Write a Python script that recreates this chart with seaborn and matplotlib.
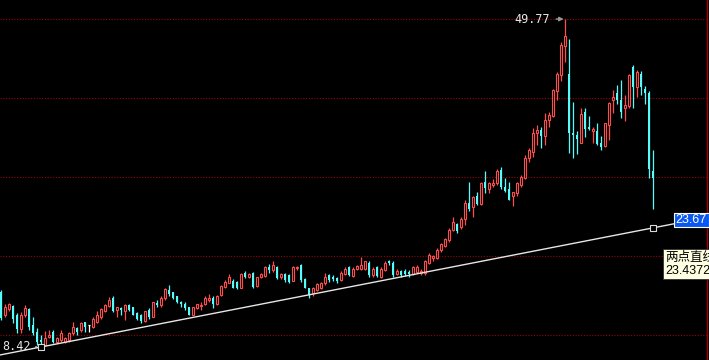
import matplotlib
matplotlib.use("Agg")
import matplotlib.pyplot as plt
from matplotlib.patches import Rectangle
import numpy as np
import pandas as pd
import seaborn as sns

# daily candles (price)
opens = [15.35, 12.5, 13.2, 13.6, 12.5, 10.65, 12.5, 13.2, 11.2, 10.35,
         9.3, 8.7, 9.7, 10.35, 9.1, 9.3, 9.1, 9.3, 10.15, 10.8,
         10.6, 11.6, 11.2, 11.0, 11.6, 12.25, 12.9, 13.6, 14.6, 13.1,
         13.3, 12.9, 13.7, 13.4, 12.7, 12.4, 11.7, 13.1, 12.25, 14.0,
         13.7, 14.6, 15.6, 15.3, 14.8, 14.1, 13.9, 13.4, 12.5, 13.3,
         13.6, 13.9, 14.35, 14.6, 13.9, 15.0, 16.0, 16.5, 16.8, 16.65,
         15.9, 17.7, 17.3, 17.8, 16.1, 17.2, 17.4, 18.5, 18.1, 18.55,
         17.2, 17.6, 17.5, 16.8, 18.4, 18.8, 16.95, 15.8, 15.2, 15.6,
         15.9, 16.45, 17.5, 17.3, 17.1, 16.9, 17.6, 18.5, 17.4, 18.3,
         18.2, 18.2, 19.05, 17.5, 18.5, 17.3, 18.1, 19.2, 19.05, 17.6,
         18.0, 18.0, 17.9, 17.6, 17.9, 17.7, 17.7, 19.0, 19.6, 19.7,
         20.6, 21.1, 21.9, 23.2, 23.9, 23.5, 24.6, 26.6, 26.1, 27.45,
         26.5, 29.25, 28.3, 28.85, 29.05, 30.7, 28.6, 28.3, 27.4, 27.8,
         28.85, 29.7, 32.2, 33.05, 35.45, 35.8, 35.0, 37.0, 37.5, 40.7,
         42.7, 46.4, 42.8, 35.45, 35.15, 34.2, 38.1, 36.1, 35.6, 35.7,
         34.2, 33.7, 36.4, 39.5, 40.4, 39.55, 38.6, 38.8, 43.7, 41.2,
         42.8, 40.9, 40.4, 30.65]
highs = [15.6, 13.9, 14.0, 13.7, 12.7, 12.8, 13.7, 13.3, 12.2, 10.8,
         9.9, 10.4, 10.6, 10.6, 9.7, 10.6, 9.7, 10.35, 11.6, 11.0,
         11.6, 11.6, 11.2, 12.2, 12.9, 13.3, 13.9, 14.7, 14.8, 13.5,
         13.5, 13.9, 13.9, 13.5, 12.8, 12.6, 13.0, 13.3, 14.1, 14.35,
         14.8, 15.8, 16.2, 15.4, 14.9, 14.2, 14.1, 13.5, 13.5, 13.9,
         14.1, 14.8, 15.1, 14.8, 15.0, 16.2, 16.9, 17.6, 16.95, 16.8,
         17.8, 18.0, 17.8, 17.9, 17.3, 17.7, 18.6, 18.9, 19.3, 18.6,
         17.7, 17.7, 17.6, 18.6, 18.6, 18.9, 17.1, 15.9, 16.0, 16.5,
         16.65, 17.7, 17.6, 17.5, 17.2, 18.0, 18.5, 18.6, 18.5, 18.8,
         19.8, 19.3, 19.2, 18.5, 18.6, 18.5, 19.2, 19.4, 19.2, 18.2,
         18.1, 18.2, 18.1, 18.6, 18.7, 18.3, 19.4, 20.3, 20.0, 20.85,
         21.5, 22.2, 23.4, 24.85, 24.1, 24.85, 26.95, 29.25, 27.45, 27.9,
         29.25, 30.6, 29.25, 29.55, 30.8, 31.15, 29.7, 29.25, 28.0, 29.25,
         30.1, 32.6, 33.5, 36.0, 36.4, 36.2, 37.9, 38.1, 41.0, 43.1,
         46.9, 49.77, 47.2, 39.35, 35.7, 38.6, 38.6, 37.6, 36.2, 36.7,
         35.0, 36.7, 39.35, 40.8, 41.45, 42.1, 40.2, 42.85, 43.97, 43.3,
         43.25, 41.3, 40.7, 33.3]
lows = [11.8, 12.25, 13.0, 11.4, 10.2, 10.2, 12.25, 10.6, 9.9, 8.7,
        8.42, 8.5, 9.5, 8.9, 8.9, 9.1, 8.95, 9.1, 9.9, 9.9,
        10.35, 10.35, 10.35, 10.8, 11.4, 12.0, 12.8, 13.4, 12.8, 12.25,
        12.5, 11.8, 12.9, 12.4, 11.8, 11.4, 11.6, 12.0, 12.2, 13.4,
        13.5, 14.35, 14.8, 14.5, 14.0, 13.5, 13.1, 12.4, 12.4, 13.2,
        13.1, 13.7, 14.1, 13.3, 13.7, 14.8, 15.9, 16.45, 15.8, 15.7,
        15.8, 17.1, 17.1, 15.9, 16.0, 17.1, 17.3, 17.7, 17.9, 17.0,
        17.0, 16.65, 16.5, 16.7, 18.1, 16.65, 15.8, 14.55, 14.8, 15.5,
        15.7, 16.2, 16.65, 16.8, 16.45, 16.8, 17.5, 17.4, 17.3, 18.1,
        18.1, 18.1, 17.3, 17.3, 17.2, 17.1, 18.0, 18.8, 17.3, 17.5,
        17.3, 17.4, 17.3, 17.5, 17.8, 17.5, 17.5, 18.9, 19.3, 19.5,
        20.4, 21.0, 21.7, 23.0, 22.75, 23.25, 23.8, 25.6, 24.85, 26.3,
        26.3, 27.8, 27.8, 28.6, 28.8, 28.4, 28.0, 26.9, 26.2, 27.4,
        28.6, 29.55, 31.8, 32.4, 33.9, 33.5, 33.9, 36.2, 37.4, 39.5,
        42.0, 44.4, 32.9, 32.2, 32.75, 34.1, 34.85, 35.8, 34.2, 33.9,
        33.2, 33.6, 34.5, 37.95, 39.05, 37.35, 36.9, 38.5, 38.5, 39.9,
        40.2, 39.05, 29.7, 25.8]
closes = [12.07, 13.5, 13.8, 11.9, 10.65, 12.5, 13.3, 10.9, 10.15, 9.1,
          9.0, 9.5, 9.9, 9.1, 9.5, 10.15, 9.5, 10.15, 10.9, 10.35,
          11.4, 11.0, 11.2, 11.9, 12.5, 13.2, 13.7, 14.4, 12.96, 13.4,
          13.1, 13.7, 13.1, 12.5, 12.0, 11.7, 12.9, 12.25, 14.05, 13.7,
          14.6, 15.7, 15.1, 14.6, 14.1, 13.8, 13.3, 12.5, 13.4, 13.8,
          13.7, 14.6, 14.6, 13.9, 14.85, 16.1, 16.65, 17.2, 15.9, 15.8,
          17.6, 17.2, 17.6, 16.0, 17.2, 17.6, 18.5, 18.1, 18.8, 17.1,
          17.6, 16.9, 16.65, 18.5, 18.55, 16.9, 15.9, 15.0, 15.8, 16.4,
          16.5, 17.3, 16.9, 16.95, 16.8, 17.8, 18.3, 17.5, 18.3, 18.6,
          18.8, 19.2, 17.5, 18.3, 17.4, 18.3, 19.05, 19.0, 17.5, 18.0,
          17.5, 17.6, 17.6, 18.5, 18.55, 18.0, 19.2, 20.0, 19.9, 20.7,
          21.4, 22.0, 23.2, 24.2, 23.1, 24.6, 26.6, 25.8, 27.3, 26.45,
          29.1, 28.5, 29.1, 29.1, 30.65, 28.6, 28.1, 27.0, 27.9, 29.05,
          29.8, 32.3, 33.3, 35.45, 35.8, 35.0, 37.1, 37.65, 40.8, 42.8,
          46.5, 47.6, 35.45, 35.15, 34.7, 37.8, 35.85, 35.85, 35.85, 34.0,
          33.6, 36.6, 39.2, 39.9, 39.55, 38.1, 38.9, 42.7, 41.15, 43.1,
          41.15, 40.4, 30.8, 29.7]

# two-point trend line (bar number, price)
line_start = (11, 8.42)
line_end = (164, 23.4372)
grid_levels = [9.93, 19.89, 29.85, 39.81, 49.77]
right_label = "23.67"
tip_title = "两点直线"
tip_value = "23.4372"

UP = "#ff4d4d"
DOWN = "#54fcfc"
GRID = "#a00000"

df = pd.DataFrame({"open": opens, "high": highs, "low": lows, "close": closes})
df["bar"] = np.arange(1, len(df) + 1)
df["color"] = np.where(df["close"] > df["open"], UP,
                       np.where(df["close"] < df["open"], DOWN, "white"))

sns.set_style("dark", rc={"axes.facecolor": "black", "figure.facecolor": "black"})

fig = plt.figure(figsize=(7.09, 3.6), dpi=100)
ax = fig.add_axes([0, 0, 707 / 709, 1])

for lvl in grid_levels:
    ax.axhline(lvl, color=GRID, linestyle=(0, (1, 1.5)), linewidth=0.8, zorder=1)

# wicks
ax.vlines(df["bar"], df["low"], df["high"], colors=df["color"], linewidth=0.9, zorder=2)

up = df[df["close"] > df["open"]]
dn = df[df["close"] < df["open"]]
flat = df[df["close"] == df["open"]]
ax.bar(up["bar"], up["close"] - up["open"], bottom=up["open"], width=0.55,
       facecolor="black", edgecolor=UP, linewidth=0.8, zorder=3)
ax.bar(dn["bar"], dn["open"] - dn["close"], bottom=dn["close"], width=0.72,
       color=DOWN, linewidth=0, zorder=3)
ax.hlines(flat["open"], flat["bar"] - 0.36, flat["bar"] + 0.36, colors="white",
          linewidth=0.9, zorder=3)

# trend line through the two anchors, extended
slope = (line_end[1] - line_start[1]) / (line_end[0] - line_start[0])
xs = np.array([0.75, 169.25])
ys = line_start[1] + slope * (xs - line_start[0])
sns.lineplot(x=xs, y=ys, ax=ax, color="#e6e6e6", linewidth=1.0, zorder=4)
ax.scatter([line_start[0], line_end[0]], [line_start[1], line_end[1]], marker="s",
           s=22, facecolors="black", edgecolors="#d8d8d8", linewidths=0.8, zorder=5)

# high / low markers
hi = df.loc[df["high"].idxmax()]
ax.annotate(f"{hi['high']:.2f}", xy=(hi["bar"], hi["high"]), xytext=(-15, 0),
            textcoords="offset pixels", ha="right", va="center", color="#e6e6e6",
            fontsize=8.5, family="DejaVu Sans Mono",
            arrowprops=dict(arrowstyle="-|>", color="#9a9a9a", lw=1, shrinkA=2,
                            shrinkB=1, mutation_scale=6))
lo = df.loc[df["low"].idxmin()]
ax.annotate(f"{lo['low']:.2f}", xy=(lo["bar"], lo["low"]), xytext=(-10, 0),
            textcoords="offset pixels", ha="right", va="center", color="#e6e6e6",
            fontsize=8.5, family="DejaVu Sans Mono",
            arrowprops=dict(arrowstyle="-", color="#d8d8d8", lw=1, shrinkA=1, shrinkB=3))

ax.set_xlim(0.75, 177.5)
ax.set_ylim(6.78, 52.17)
ax.set_xticks([])
ax.set_yticks([])
ax.grid(False)
for s in ["top", "left", "bottom"]:
    ax.spines[s].set_visible(False)
ax.spines["right"].set_visible(True)
ax.spines["right"].set_color(GRID)
ax.spines["right"].set_linewidth(1)

# price box at right edge
W, H = 709, 360
fig.patches.append(Rectangle((674 / W, 1 - 227 / H), 35 / W, 14 / H, transform=fig.transFigure,
                             facecolor="#0a58f0", edgecolor="white", linewidth=0.8, zorder=6))
fig.text(691 / W, 1 - 220 / H, right_label, color="white", fontsize=9,
         family="Liberation Sans", ha="center", va="center", zorder=7)

# tooltip
fig.patches.append(Rectangle((663 / W, 1 - 279 / H), 50 / W, 30 / H, transform=fig.transFigure,
                             facecolor="#ffffe1", edgecolor="#303030", linewidth=0.6, zorder=6))
fig.text(665 / W, 1 - 257 / H, tip_title, color="black", fontsize=9,
         family=["Noto Sans CJK SC", "DejaVu Sans"], ha="left", va="center", zorder=7)
fig.text(665 / W, 1 - 271 / H, tip_value, color="black", fontsize=9,
         family="Liberation Sans", ha="left", va="center", zorder=7)

fig.savefig("out.png", dpi=100, facecolor="black")
